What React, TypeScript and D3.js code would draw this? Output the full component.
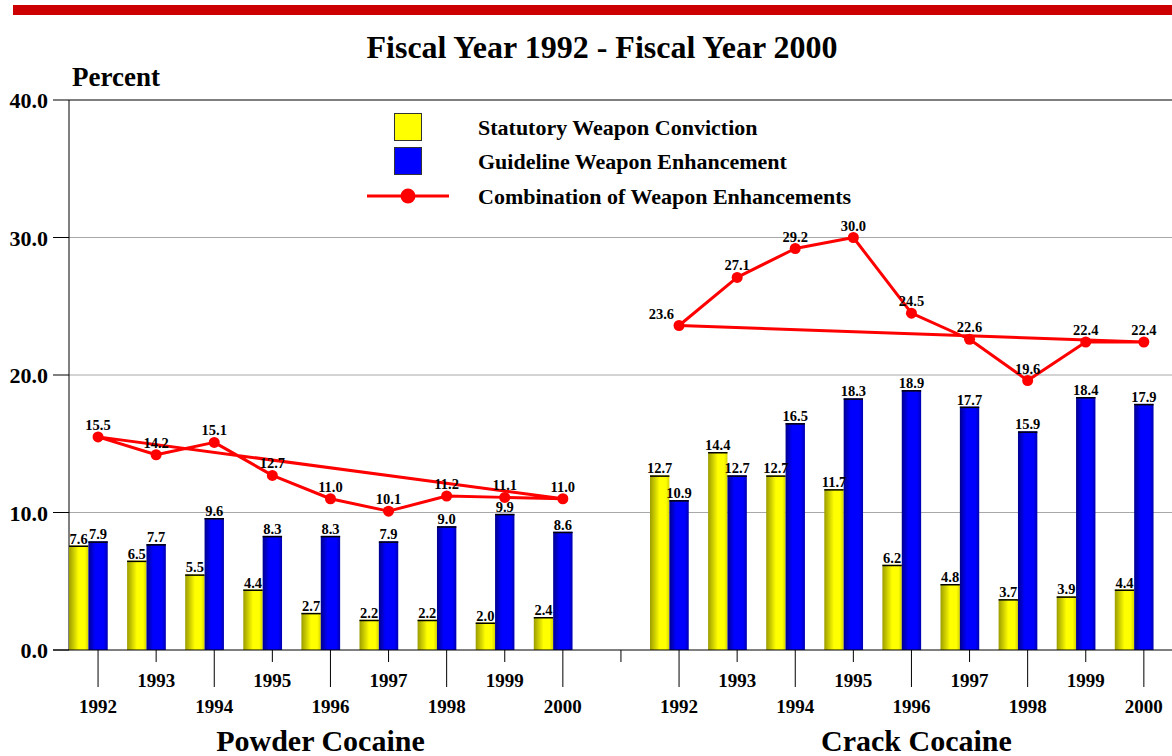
import React from 'react';
import * as d3 from 'd3';

const years = ['1992', '1993', '1994', '1995', '1996', '1997', '1998', '1999', '2000'];
const groups = ['Powder Cocaine', 'Crack Cocaine'];
const powderStatutory = [7.6, 6.5, 5.5, 4.4, 2.7, 2.2, 2.2, 2.0, 2.4];
const powderGuideline = [7.9, 7.7, 9.6, 8.3, 8.3, 7.9, 9.0, 9.9, 8.6];
const powderCombination = [15.5, 14.2, 15.1, 12.7, 11.0, 10.1, 11.2, 11.1, 11.0];
const crackStatutory = [12.7, 14.4, 12.7, 11.7, 6.2, 4.8, 3.7, 3.9, 4.4];
const crackGuideline = [10.9, 12.7, 16.5, 18.3, 18.9, 17.7, 15.9, 18.4, 17.9];
const crackCombination = [23.6, 27.1, 29.2, 30.0, 24.5, 22.6, 19.6, 22.4, 22.4];
const yTicks = [0, 10, 20, 30, 40];
const seriesNames = ['Statutory Weapon Conviction', 'Guideline Weapon Enhancement', 'Combination of Weapon Enhancements'];
const title = 'Fiscal Year 1992 - Fiscal Year 2000';
const yTitle = 'Percent';

const FONT = '"Liberation Serif", "Times New Roman", serif';

export default function App() {
  const W = 1172, H = 756;
  const left = 69, right = 1172.9, top = 100, bottom = 650;
  const keys = [...years.map(y => 'P' + y), 'gap', ...years.map(y => 'C' + y)];
  const x = d3.scaleBand<string>().domain(keys).range([left, right]).paddingInner(0).paddingOuter(0);
  const y = d3.scaleLinear().domain([0, 40]).range([bottom, top]);
  const bw = x.bandwidth() / 3;
  const groupsData = [
    { prefix: 'P', stat: powderStatutory, guide: powderGuideline, comb: powderCombination, name: groups[0] },
    { prefix: 'C', stat: crackStatutory, guide: crackGuideline, comb: crackCombination, name: groups[1] },
  ];
  const center = (k: string) => (x(k) as number) + x.bandwidth() / 2;
  const line = d3.line<[number, number]>().curve(d3.curveLinearClosed);
  const fmt = d3.format('.1f');

  return (
    <svg width={W} height={H} style={{ position: 'absolute', left: 0, top: 0, background: '#fff' }} fontFamily={FONT} fontWeight="bold">
      <defs>
        <linearGradient id="gy" x1="0" x2="1" y1="0" y2="0">
          <stop offset="0%" stopColor="#9c9c00" />
          <stop offset="50%" stopColor="#ffff00" />
          <stop offset="82%" stopColor="#ffff00" />
          <stop offset="100%" stopColor="#d4d400" />
        </linearGradient>
        <linearGradient id="gb" x1="0" x2="1" y1="0" y2="0">
          <stop offset="0%" stopColor="#00008e" />
          <stop offset="35%" stopColor="#0000ff" />
          <stop offset="80%" stopColor="#0000ff" />
          <stop offset="100%" stopColor="#0000b0" />
        </linearGradient>
      </defs>
      <rect x={13} y={5} width={W - 13} height={10} fill="#cc0000" />
      <text x={602} y={58} textAnchor="middle" fontSize={32}>{title}</text>
      <text x={72} y={86} fontSize={27}>{yTitle}</text>

      {/* grid and y axis */}
      {yTicks.map(t => (
        <g key={t}>
          {t > 0 && t < 40 && <line x1={left} x2={W} y1={y(t)} y2={y(t)} stroke="#a8a8a8" strokeWidth={1} />}
          <line x1={53} x2={left} y1={y(t)} y2={y(t)} stroke="#000" strokeWidth={1} />
          <text x={48} y={y(t) + 8} textAnchor="end" fontSize={22}>{fmt(t)}</text>
        </g>
      ))}
      <line x1={left} x2={W} y1={y(40)} y2={y(40)} stroke="#000" strokeWidth={1} />
      <line x1={left} x2={left} y1={top} y2={bottom} stroke="#000" strokeWidth={1} />

      {/* bars */}
      {groupsData.map(g => (
        <g key={g.prefix}>
          {years.map((yr, i) => {
            const x0 = x(g.prefix + yr) as number;
            const ys = y(g.stat[i]), yg = y(g.guide[i]);
            return (
              <g key={yr}>
                <rect x={x0} y={ys} width={bw} height={bottom - ys} fill="url(#gy)" />
                <line x1={x0} x2={x0 + bw} y1={ys + 0.75} y2={ys + 0.75} stroke="#000" strokeWidth={1.5} />
                <rect x={x0 + bw} y={yg} width={bw} height={bottom - yg} fill="url(#gb)" />
                <line x1={x0 + bw} x2={x0 + 2 * bw} y1={yg + 0.75} y2={yg + 0.75} stroke="#000" strokeWidth={1.5} />
                <text x={x0 + bw / 2} y={ys - 2} textAnchor="middle" fontSize={14.5}>{fmt(g.stat[i])}</text>
                <text x={x0 + 1.5 * bw} y={yg - 2} textAnchor="middle" fontSize={14.5}>{fmt(g.guide[i])}</text>
              </g>
            );
          })}
        </g>
      ))}

      {/* x axis */}
      <line x1={53} x2={W} y1={bottom} y2={bottom} stroke="#000" strokeWidth={1} />
      {keys.map(k => {
        const cx = center(k);
        const idx = k === 'gap' ? -1 : years.indexOf(k.slice(1));
        const long = idx >= 0 && idx % 2 === 0;
        return (
          <g key={k}>
            <line x1={cx} x2={cx} y1={bottom} y2={long ? 687 : 662} stroke="#000" strokeWidth={1} />
            {idx >= 0 && (
              <text x={cx} y={long ? 713 : 687} textAnchor="middle" fontSize={19}>{years[idx]}</text>
            )}
          </g>
        );
      })}
      {groupsData.map(g => {
        const a = center(g.prefix + years[0]);
        const b = center(g.prefix + years[years.length - 1]);
        return (
          <text key={g.name} x={(a + b) / 2 - (g.prefix === 'P' ? 10 : -5)} y={751} textAnchor="middle" fontSize={30}>{g.name}</text>
        );
      })}

      {/* combination lines */}
      {groupsData.map(g => {
        const pts: [number, number][] = years.map((yr, i) => [center(g.prefix + yr), y(g.comb[i])]);
        return (
          <g key={'l' + g.prefix}>
            <path d={line(pts) || ''} fill="none" stroke="#ff0000" strokeWidth={3} strokeLinejoin="round" />
            {pts.map((p, i) => (
              <circle key={i} cx={p[0]} cy={p[1]} r={5.5} fill="#ff0000" />
            ))}
            {pts.map((p, i) => {
              const first = g.prefix === 'C' && i === 0;
              return (
                <text key={'t' + i} x={first ? p[0] - 5 : p[0]} y={p[1] - 7} textAnchor={first ? 'end' : 'middle'} fontSize={14.5}>{fmt(g.comb[i])}</text>
              );
            })}
          </g>
        );
      })}

      {/* legend */}
      <rect x={394.5} y={113.5} width={27} height={27} fill="#ffff00" stroke="#333" strokeWidth={1} />
      <rect x={394.5} y={147.5} width={27} height={27} fill="#0000ff" stroke="#333" strokeWidth={1} />
      <line x1={367} x2={449} y1={196} y2={196} stroke="#ff0000" strokeWidth={3} />
      <circle cx={408} cy={196} r={7.5} fill="#ff0000" />
      <text x={478} y={135} fontSize={22}>{seriesNames[0]}</text>
      <text x={478} y={169} fontSize={22}>{seriesNames[1]}</text>
      <text x={478} y={204} fontSize={22}>{seriesNames[2]}</text>
    </svg>
  );
}
